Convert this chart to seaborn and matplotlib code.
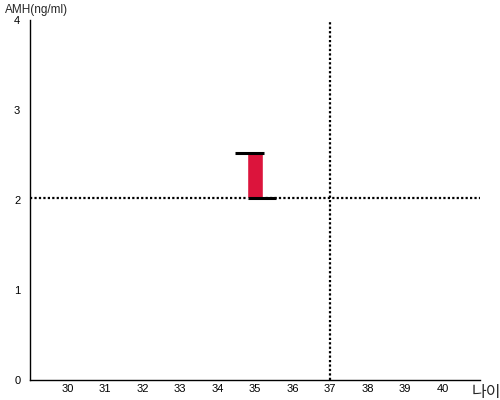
import matplotlib
matplotlib.use("Agg")
import matplotlib.pyplot as plt
import seaborn as sns

# 나이 / AMH 범위 데이터
ages = [35]
amh_low = [2.02]
amh_high = [2.52]
ref_age = 37
ref_amh = 2.02
x_ticks = list(range(30, 41))
y_ticks = [0, 1, 2, 3, 4]

sns.set_style("white")
plt.rcParams['font.family'] = ['Liberation Sans', 'Noto Sans CJK KR', 'DejaVu Sans']

fig = plt.figure(figsize=(5, 4), dpi=100)
ax = fig.add_axes([0.06, 0.05, 0.90, 0.90])

# 기준선
ax.axhline(ref_amh, color='black', lw=1.6, ls=(0, (1, 1)), zorder=1)
ax.axvline(ref_age, color='black', lw=1.6, ls=(0, (1, 1)), zorder=1)

# 범위 막대
heights = [h - l for h, l in zip(amh_high, amh_low)]
ax.bar(ages, heights, bottom=amh_low, width=0.43, color='#DC143C', zorder=2)
for a, lo, hi in zip(ages, amh_low, amh_high):
    ax.hlines(hi, a - 0.52, a + 0.23, color='black', lw=2.2, zorder=3)
    ax.hlines(lo, a - 0.2, a + 0.55, color='black', lw=2.2, zorder=3)

ax.set_xlim(29, 41)
ax.set_ylim(0, 4)
ax.set_xticks(x_ticks)
ax.set_yticks(y_ticks)
ax.tick_params(axis='both', length=0, labelsize=8, colors='black')
ax.tick_params(axis='x', pad=3)
ax.tick_params(axis='y', pad=7)
sns.despine(ax=ax)
for s in ['left', 'bottom']:
    ax.spines[s].set_color('black')
    ax.spines[s].set_linewidth(1)

fig.text(0.01, 0.975, 'AMH(ng/ml)', fontsize=8.5, va='center', ha='left')
fig.text(0.944, 0.02, '나이', fontsize=11.5, va='center', ha='left',
         family=['Noto Sans CJK KR', 'DejaVu Sans'])

fig.savefig('out.png', dpi=100)
